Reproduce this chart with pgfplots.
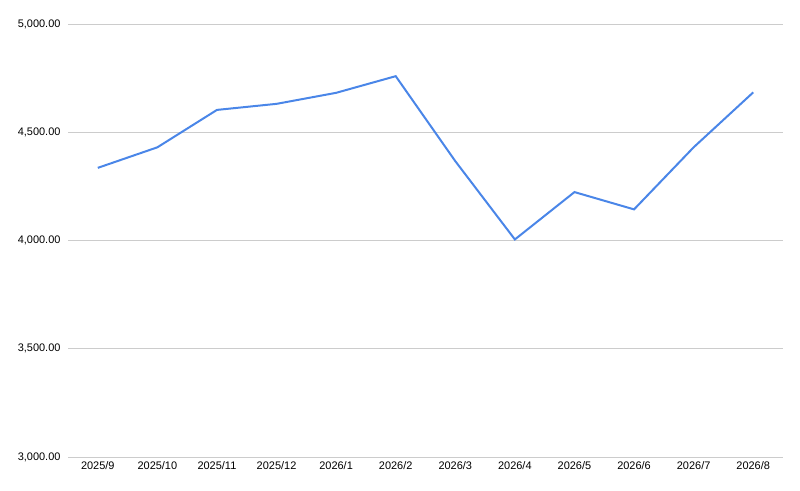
\documentclass[border=0pt]{standalone}
\usepackage{pgfplots}
\pgfplotsset{compat=1.18}
\usepackage{fontspec}
\setmainfont{Liberation Sans}
\definecolor{lineblue}{HTML}{4A86E8}
\definecolor{gridgray}{HTML}{CCCCCC}
\begin{document}
\begin{tikzpicture}[x=1bp,y=1bp]
\useasboundingbox (0,0) rectangle (800,491);
\begin{axis}[
  at={(68bp,34bp)}, anchor=south west,
  scale only axis, width=715bp, height=432.5bp,
  xmin=-0.5, xmax=11.5, ymin=3000, ymax=5000,
  axis line style={draw=none},
  ytick={3000,3500,4000,4500,5000},
  xtick={0,...,11},
  xticklabels={2025/9,2025/10,2025/11,2025/12,2026/1,2026/2,2026/3,2026/4,2026/5,2026/6,2026/7,2026/8},
  ymajorgrids, grid style={gridgray, line width=0.9bp},
  major tick length=0pt,
  tick label style={font=\fontsize{11}{13}\selectfont, text=black},
  yticklabel style={xshift=-4bp},
  xticklabel style={yshift=-1bp},
  /pgf/number format/assume math mode=true,
  yticklabel={\pgfmathprintnumber[fixed, fixed zerofill, precision=2, 1000 sep={,}]{\tick}},
  clip=false,
]
\addplot[lineblue, line width=2bp, mark=none] coordinates {
 (0,4337) (1,4432) (2,4605) (3,4633) (4,4684) (5,4761)
 (6,4368) (7,4006) (8,4225) (9,4145) (10,4432) (11,4686)
};
\end{axis}
\end{tikzpicture}
\end{document}
